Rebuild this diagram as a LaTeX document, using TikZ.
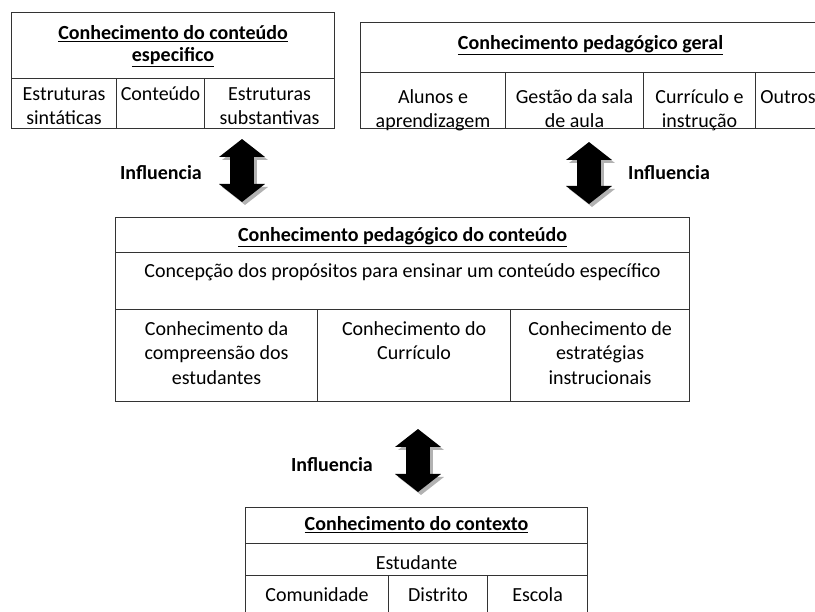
\documentclass[tikz,border=0pt]{standalone}
\usepackage{fontspec}
\setmainfont{Carlito}
\usetikzlibrary{positioning, arrows.meta}

\tikzset{
  cell/.style={draw=black!80, line width=1.1pt, anchor=north west, inner sep=0pt},
  txt/.style={align=center, inner sep=0pt, font=\fontsize{20}{24.5}\selectfont,
    execute at begin node={\rule{0pt}{18pt}}},
  ttl/.style={txt, font=\fontsize{20}{22.5}\selectfont\bfseries},
  lbl/.style={inner sep=0pt, font=\fontsize{20}{22}\selectfont\bfseries},
  infl/.style={line width=24pt, {Triangle[width=45pt,length=18pt]}-{Triangle[width=45pt,length=18pt]}},
  shade/.style={infl, draw=black!30}
}

\begin{document}
\begin{tikzpicture}[x=1pt, y=-1pt]
\clip (0,0) rectangle (815,612);

% conhecimento do conteudo especifico
\node[cell, minimum width=323pt, minimum height=66pt] (ck) at (11,12) {};
\node[ttl, below=13pt of ck.north] (ckt) {\underline{Conhecimento do conteúdo}\\\underline{especifico}};
\node[cell, minimum width=105pt, minimum height=50pt] (ck1) at (11,78) {};
\node[cell, minimum width=88pt, minimum height=50pt] (ck2) at (116,78) {};
\node[cell, minimum width=130pt, minimum height=50pt] (ck3) at (204,78) {};
\node[txt, below=9pt of ck1.north] (ck1t) {Estruturas\\sintáticas};
\node[txt, below=4pt of ck2.north] (ck2t) {Conteúdo};
\node[txt, below=9pt of ck3.north] (ck3t) {Estruturas\\substantivas};

% conhecimento pedagogico geral
\node[cell, minimum width=460pt, minimum height=50pt] (pg) at (360,22) {};
\node[ttl, below=9pt of pg.north] (pgt) {\underline{Conhecimento pedagógico geral}};
\node[cell, minimum width=145pt, minimum height=56pt] (pg1) at (360,72) {};
\node[cell, minimum width=138pt, minimum height=56pt] (pg2) at (505,72) {};
\node[cell, minimum width=112pt, minimum height=56pt] (pg3) at (643,72) {};
\node[cell, minimum width=65pt, minimum height=56pt] (pg4) at (755,72) {};
\node[txt, below=17pt of pg1.north] (pg1t) {Alunos e\\aprendizagem};
\node[txt, below=17pt of pg2.north] (pg2t) {Gestão da sala\\de aula};
\node[txt, below=17pt of pg3.north] (pg3t) {Currículo e\\instrução};
\node[txt, below=13pt of pg4.north] (pg4t) {Outros};

% conhecimento pedagogico do conteudo
\node[cell, minimum width=574pt, minimum height=35pt] (pck) at (115,217) {};
\node[ttl, below=6pt of pck.north] (pckt) {\underline{Conhecimento pedagógico do conteúdo}};
\node[cell, minimum width=574pt, minimum height=57pt] (pcc) at (115,252) {};
\node[txt, below=7pt of pcc.north] (pcct) {Concepção dos propósitos para ensinar um conteúdo específico};
\node[cell, minimum width=202pt, minimum height=92pt] (pck1) at (115,309) {};
\node[cell, minimum width=193pt, minimum height=92pt] (pck2) at (317,309) {};
\node[cell, minimum width=179pt, minimum height=92pt] (pck3) at (510,309) {};
\node[txt, below=12pt of pck1.north] (pck1t) {Conhecimento da\\compreensão dos\\estudantes};
\node[txt, below=12pt of pck2.north] (pck2t) {Conhecimento do\\Currículo};
\node[txt, below=12pt of pck3.north] (pck3t) {Conhecimento de\\estratégias\\instrucionais};

% conhecimento do contexto
\node[cell, minimum width=342pt, minimum height=36pt] (ctx) at (245,507) {};
\node[ttl, below=5pt of ctx.north] (ctxt) {\underline{Conhecimento do contexto}};
\node[cell, minimum width=342pt, minimum height=32pt] (ctxs) at (245,543) {};
\node[txt, below=8pt of ctxs.north] (ctxst) {Estudante};
\node[cell, minimum width=143pt, minimum height=50pt] (ctx1) at (245,575) {};
\node[cell, minimum width=99pt, minimum height=50pt] (ctx2) at (388,575) {};
\node[cell, minimum width=100pt, minimum height=50pt] (ctx3) at (487,575) {};
\node[txt, below=8pt of ctx1.north] (ctx1t) {Comunidade};
\node[txt, below=8pt of ctx2.north] (ctx2t) {Distrito};
\node[txt, below=8pt of ctx3.north] (ctx3t) {Escola};

% setas de influencia
\coordinate (a1s) at (242,139);
\coordinate (a1e) at (242,202);
\coordinate (a1m) at (242,173);
\coordinate (a2s) at (589,142);
\coordinate (a2e) at (589,204);
\coordinate (a2m) at (589,173);
\coordinate (a3s) at (418,429);
\coordinate (a3e) at (418,492);
\coordinate (a3m) at (418,465);

\draw[shade] ([shift={(3,3)}]a1s) -- ([shift={(3,3)}]a1e);
\draw[shade] ([shift={(3,3)}]a2s) -- ([shift={(3,3)}]a2e);
\draw[shade] ([shift={(3,3)}]a3s) -- ([shift={(3,3)}]a3e);
\draw[infl] (a1s) -- (a1e);
\draw[infl] (a2s) -- (a2e);
\draw[infl] (a3s) -- (a3e);

\node[lbl, left=40pt of a1m] (i1) {Influencia};
\node[lbl, right=39pt of a2m] (i2) {Influencia};
\node[lbl, left=45pt of a3m] (i3) {Influencia};
\end{tikzpicture}
\end{document}
